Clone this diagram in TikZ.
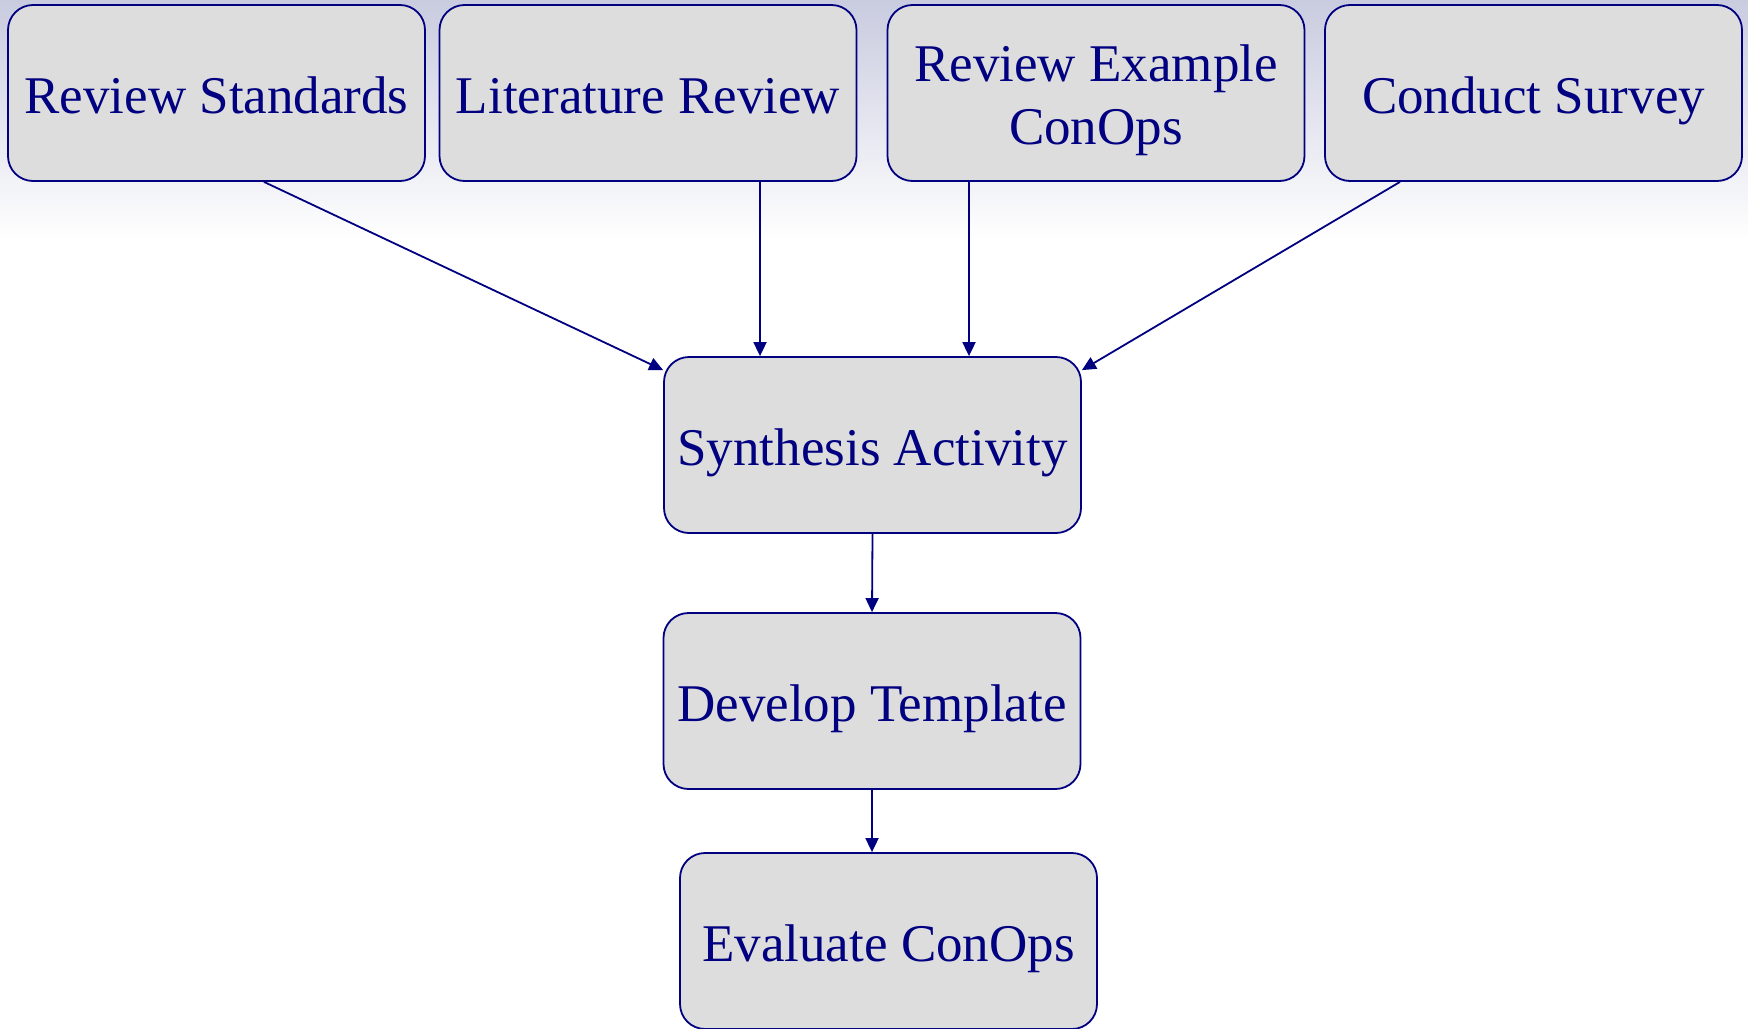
\documentclass[tikz,border=0pt]{standalone}
\usepackage{fontspec}
\setmainfont{Liberation Serif}
\usetikzlibrary{arrows.meta,calc}
\definecolor{navy}{HTML}{000080}
\definecolor{boxfill}{HTML}{DDDDDD}
\definecolor{bgtop}{HTML}{C9CBDF}
\newcommand{\boxtext}[1]{\raisebox{-7.3pt}[\height][\depth]{\begin{tabular}{@{}c@{}}#1\end{tabular}}}
\begin{document}
\begin{tikzpicture}[x=1pt,y=-1pt,
  box/.style={draw=navy,line width=1.8pt,fill=boxfill,rounded corners=25pt,
    minimum width=417pt,minimum height=176pt,inner sep=0pt,
    text=navy,font=\fontsize{53}{63.5}\selectfont},
  conn/.style={draw=navy,line width=1.8pt,-{Triangle[length=14pt,width=13pt]}}]
\useasboundingbox (0,0) rectangle (1748,1028);
\fill[white] (0,0) rectangle (1748,1028);
\shade[top color=bgtop,bottom color=white] (0,0) rectangle (1748,240);
\node[box] (RS) at (216.5,93) {\boxtext{Review Standards}};
\node[box] (LR) at (648,93) {\boxtext{Literature Review}};
\node[box] (RE) at (1096,93) {\boxtext{Review Example\\ConOps}};
\node[box] (CS) at (1533.5,93) {\boxtext{Conduct Survey}};
\node[box] (SA) at (872.5,445) {\boxtext{Synthesis Activity}};
\node[box] (DT) at (872,701) {\boxtext{Develop Template}};
\node[box] (EC) at (888.5,941) {\boxtext{Evaluate ConOps}};
\draw[conn] ($(RS.south)+(47.5,0)$) -- ($(SA.north west)+(0,14)$);
\draw[conn] ($(LR.south)+(112,0)$) -- ($(SA.north)+(-112.5,0)$);
\draw[conn] ($(RE.south)+(-127,0)$) -- ($(SA.north)+(96.5,0)$);
\draw[conn] ($(CS.south)+(-133.5,0)$) -- ($(SA.north east)+(0,14)$);
\draw[conn] (SA.south) -- (DT.north);
\draw[conn] (DT.south) -- (EC.north -| DT.south);
\end{tikzpicture}
\end{document}
